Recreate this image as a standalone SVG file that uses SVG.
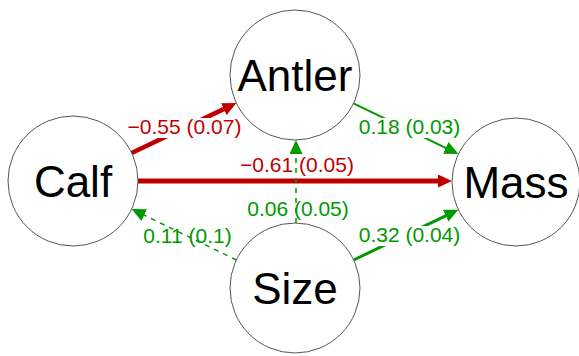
<svg xmlns="http://www.w3.org/2000/svg" width="579" height="356" viewBox="0 0 579 356">
  <defs>
    <style>
      .node circle { fill: #ffffff; stroke: #555555; stroke-width: 1; }
      .node text { font-family: "Liberation Sans", Arial, sans-serif; font-size: 44px; fill: #000000; text-anchor: middle; }
      .edge { fill: none; }
      .neg { stroke: #BF0000; }
      .pos { stroke: #009900; }
      .dash { stroke-dasharray: 5 5; stroke-width: 1.5; }
      .lbl { font-family: "Liberation Sans", Arial, sans-serif; font-size: 21px; text-anchor: middle; }
      .lbl.negc { fill: #BF0000; }
      .lbl.posc { fill: #009900; }
      .bg { fill: #ffffff; }
    </style>
    <marker id="ah-neg" markerUnits="userSpaceOnUse" markerWidth="15" markerHeight="14" refX="1" refY="6.5" orient="auto">
      <path d="M0,0 L14,6.5 L0,13 Z" fill="#BF0000"/>
    </marker>
    <marker id="ah-pos" markerUnits="userSpaceOnUse" markerWidth="15" markerHeight="14" refX="1" refY="6.5" orient="auto">
      <path d="M0,0 L14,6.5 L0,13 Z" fill="#009900"/>
    </marker>
  </defs>

  <g id="connectors">
    <!-- solid paths -->
    <line class="edge neg" x1="131.6" y1="153" x2="224.7" y2="108.6" stroke-width="4.5" marker-end="url(#ah-neg)"/>
    <line class="edge neg" x1="138" y1="181" x2="439" y2="181" stroke-width="5" marker-end="url(#ah-neg)"/>
    <line class="edge pos" x1="353.5" y1="103.3" x2="446.7" y2="148.3" stroke-width="2" marker-end="url(#ah-pos)"/>
    <line class="edge pos" x1="353.6" y1="260" x2="446.6" y2="215.3" stroke-width="3" marker-end="url(#ah-pos)"/>

    <!-- path coefficients -->
    <g id="edge-labels">
      <rect class="bg" x="127" y="118" width="115" height="20"/>
      <text class="lbl negc" x="184.5" y="134">−0.55 (0.07)</text>
      <rect class="bg" x="239" y="156" width="116" height="19"/>
      <text class="lbl negc" x="297" y="172">−0.61 (0.05)</text>
      <rect class="bg" x="358" y="118" width="103" height="20"/>
      <text class="lbl posc" x="409.5" y="134">0.18 (0.03)</text>
      <rect class="bg" x="358" y="226" width="103" height="20"/>
      <text class="lbl posc" x="409.5" y="242">0.32 (0.04)</text>
      <rect class="bg" x="247" y="200" width="102" height="20"/>
      <text class="lbl posc" x="298" y="216">0.06 (0.05)</text>
      <rect class="bg" x="142" y="227" width="91" height="20"/>
      <text class="lbl posc" x="187.5" y="243">0.11 (0.1)</text>
    </g>

    <!-- dashed paths -->
    <line class="edge pos dash" x1="296" y1="223" x2="296" y2="153" marker-end="url(#ah-pos)"/>
    <line class="edge pos dash" x1="236.4" y1="260" x2="143.3" y2="214.7" marker-end="url(#ah-pos)"/>
  </g>

  <g id="node-calf" class="node">
    <circle cx="73" cy="181" r="65"/>
    <text x="73" y="197">Calf</text>
  </g>
  <g id="node-antler" class="node">
    <circle cx="295" cy="75" r="65"/>
    <text x="295" y="91">Antler</text>
  </g>
  <g id="node-mass" class="node">
    <circle cx="516" cy="182" r="64"/>
    <text x="516" y="198">Mass</text>
  </g>
  <g id="node-size" class="node">
    <circle cx="295" cy="288" r="65"/>
    <text x="295" y="304">Size</text>
  </g>
</svg>
